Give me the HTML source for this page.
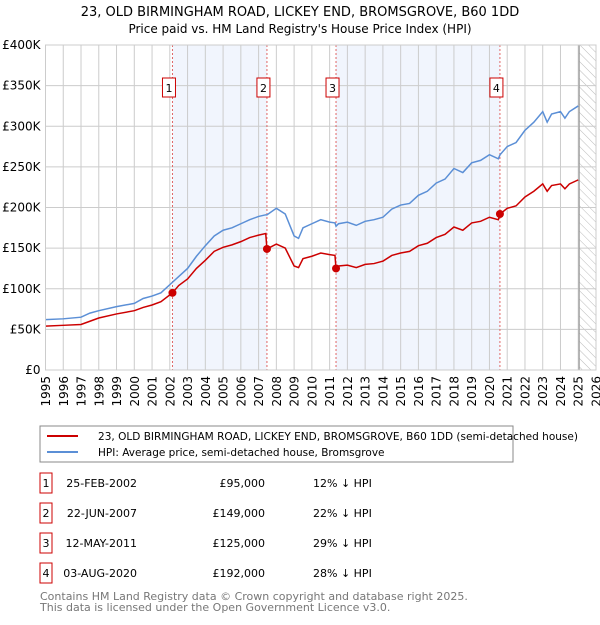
<!DOCTYPE html>
<html><head><meta charset="utf-8"><style>
body{margin:0;background:#fff;width:600px;height:620px;overflow:hidden;font-family:"Liberation Sans","DejaVu Sans",sans-serif}
svg text{font-family:"DejaVu Sans","Liberation Sans",sans-serif}
</style></head><body>
<svg id="c" width="600" height="620" xmlns="http://www.w3.org/2000/svg">
<defs><pattern id="hatch" width="6" height="6" patternUnits="userSpaceOnUse" patternTransform="rotate(-45)"><line x1="0" y1="0" x2="0" y2="6" stroke="#bbb" stroke-width="1"/></pattern></defs>
<text x="300" y="16" text-anchor="middle" font-size="13">23, OLD BIRMINGHAM ROAD, LICKEY END, BROMSGROVE, B60 1DD</text>
<text x="300" y="33" text-anchor="middle" font-size="12">Price paid vs. HM Land Registry's House Price Index (HPI)</text>
<g id="plot"></g>
<rect x="40" y="426" width="473" height="36" fill="#fff" stroke="#888"/>
<line x1="47" y1="436" x2="78" y2="436" stroke="#cc0000" stroke-width="2"/>
<text x="98" y="440" font-size="10.5" textLength="480" lengthAdjust="spacingAndGlyphs">23, OLD BIRMINGHAM ROAD, LICKEY END, BROMSGROVE, B60 1DD (semi-detached house)</text>
<line x1="47" y1="452" x2="78" y2="452" stroke="#5b8fd6" stroke-width="2"/>
<text x="98" y="456" font-size="10.5">HPI: Average price, semi-detached house, Bromsgrove</text>
<g id="tbl" font-size="11"></g>
<text x="40" y="600" font-size="11" fill="#777">Contains HM Land Registry data © Crown copyright and database right 2025.</text>
<text x="40" y="611" font-size="11" fill="#777">This data is licensed under the Open Government Licence v3.0.</text>
</svg>
<script>
const dates=[1995,1996,1997,1997.5,1998,1999,2000,2000.5,2001,2001.5,2002.15,2002.5,2003,2003.5,2004,2004.5,2005,2005.5,2006,2006.5,2007,2007.4,2007.47,2008,2008.5,2009,2009.25,2009.5,2010,2010.5,2011,2011.3,2011.36,2011.5,2012,2012.5,2013,2013.5,2014,2014.5,2015,2015.5,2016,2016.5,2017,2017.5,2018,2018.5,2019,2019.5,2020,2020.5,2020.6,2021,2021.5,2022,2022.5,2023,2023.25,2023.5,2024,2024.25,2024.5,2025];
const hpi=[62,63,65,70,73,78,82,88,91,95,108,115,125,140,153,165,172,175,180,185,189,191,191,199,192,165,162,175,180,185,182,181,177,180,182,178,183,185,188,198,203,205,215,220,230,235,248,243,255,258,265,260,265,275,280,295,305,318,305,315,318,310,318,325];
const price=[54,55,56,60,64,69,73,77,80,84,95,104,112,125,135,146,151,154,158,163,166,168,149,155,150,128,126,137,140,144,142,141,125,128,129,126,130,131,134,141,144,146,153,156,163,167,176,172,181,183,188,185,192,199,202,213,220,229,220,227,229,223,229,234];
const saleDates=[2002.15,2007.47,2011.36,2020.59];
const salePrices=[95,149,125,192];
const saleLabels=["25-FEB-2002","22-JUN-2007","12-MAY-2011","03-AUG-2020"];
const salePriceText=["£95,000","£149,000","£125,000","£192,000"];
const saleDiff=["12% ↓ HPI","22% ↓ HPI","29% ↓ HPI","28% ↓ HPI"];
const yTicks=[0,50,100,150,200,250,300,350,400];
const xYears=[1995,1996,1997,1998,1999,2000,2001,2002,2003,2004,2005,2006,2007,2008,2009,2010,2011,2012,2013,2014,2015,2016,2017,2018,2019,2020,2021,2022,2023,2024,2025,2026];
const X0=45.5,X1=596,Y0=370,Y1=45;
const xs=d=>X0+(d-1995)/31*(X1-X0);
const ys=v=>Y0-v/400*(Y0-Y1);
const NS="http://www.w3.org/2000/svg";
const g=document.getElementById('plot');
function mk(t,a,p){const e=document.createElementNS(NS,t);for(const k in a)e.setAttribute(k,a[k]);(p||g).appendChild(e);return e;}
let e=mk('rect',{x:X0,y:Y1,width:X1-X0,height:Y0-Y1,fill:'#fff'});


[[0,1],[2,3]].forEach((p,i)=>{const r=mk('rect',{x:xs(saleDates[p[0]]),y:Y1,width:xs(saleDates[p[1]])-xs(saleDates[p[0]]),height:Y0-Y1,fill:'#eef3fc',opacity:0.8});

});
const hr=mk('rect',{x:xs(2025.05),y:Y1,width:X1-xs(2025.05),height:Y0-Y1,fill:'url(#hatch)'});


xYears.forEach(y=>{const l=mk('line',{x1:xs(y),x2:xs(y),y1:Y1,y2:Y0,stroke:'#ccc'});


const t=mk('text',{x:0,y:0,'text-anchor':'end','font-size':12,transform:'translate('+(xs(y)+4.5)+',376) rotate(-90)'});t.textContent=y;

});
yTicks.forEach(v=>{const l=mk('line',{x1:X0,x2:X1,y1:ys(v),y2:ys(v),stroke:'#ccc'});


const t=mk('text',{x:X0-5,y:ys(v)+4,'text-anchor':'end','font-size':12});t.textContent=v?'£'+v+'K':'£0';

});
const nl=mk('line',{x1:xs(2025.05),x2:xs(2025.05),y1:Y1,y2:Y0,stroke:'#999','stroke-width':1.2});


saleDates.forEach((d,i)=>{const l=mk('line',{x1:xs(d),x2:xs(d),y1:Y1,y2:Y0,stroke:'#e06666','stroke-dasharray':'2,2'});


const b=mk('rect',{x:xs(d)-10,y:78,width:13,height:19,fill:'#fff',stroke:'#cc0000'});


const t=mk('text',{x:xs(d)-3.5,y:92,'text-anchor':'middle','font-size':11});t.textContent=i+1;

});
const hp=mk('polyline',{points:dates.map((d,i)=>xs(d)+','+ys(hpi[i])).join(' '),fill:'none',stroke:'#5b8fd6','stroke-width':1.5});


const pp=mk('polyline',{points:dates.map((d,i)=>xs(d)+','+ys(price[i])).join(' '),fill:'none',stroke:'#cc0000','stroke-width':1.5});


saleDates.forEach((d,i)=>{const c=mk('circle',{cx:xs(d),cy:ys(salePrices[i]),r:4,fill:'#cc0000'});

});
const fr=mk('rect',{x:X0,y:Y1,width:X1-X0,height:Y0-Y1,fill:'none',stroke:'#ccc'});


const tb=document.getElementById('tbl');
saleLabels.forEach((s,i)=>{const y=483+i*30;
const b=mk('rect',{x:40,y:y-10,width:12,height:20,fill:'#fff',stroke:'#cc0000'},tb);


const n=mk('text',{x:46,y:y+4,'text-anchor':'middle'},tb);n.textContent=i+1;


const a=mk('text',{x:137,y:y+4,'text-anchor':'end'},tb);a.textContent=s;


const p=mk('text',{x:265,y:y+4,'text-anchor':'end'},tb);p.textContent=salePriceText[i];


const h=mk('text',{x:313,y:y+4},tb);h.textContent=saleDiff[i];

});
</script>
</body></html>
